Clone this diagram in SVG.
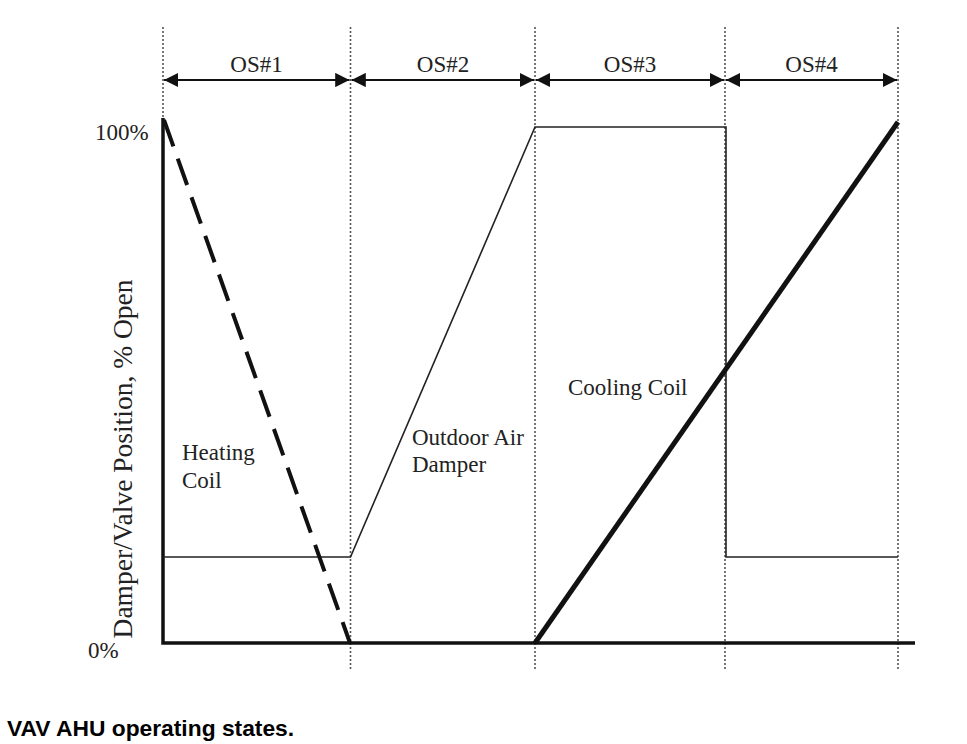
<svg xmlns="http://www.w3.org/2000/svg" width="967" height="744" viewBox="0 0 967 744">
<style>
.t{font-family:"Liberation Serif","Times New Roman",serif;font-size:23px;fill:#222}
.cap{font-family:"Liberation Sans",Arial,sans-serif;font-size:22.8px;font-weight:bold;fill:#000}
.dot{stroke:#555;stroke-width:1.6;stroke-dasharray:2 2;fill:none}
.arr{stroke:#111;stroke-width:2.2;fill:none;marker-start:url(#ah);marker-end:url(#ah)}
.thin{stroke:#222;stroke-width:1.6;fill:none}
</style>
<defs>
<marker id="ah" viewBox="0 0 10 10" refX="10" refY="5" markerWidth="6.5" markerHeight="6.5" orient="auto-start-reverse" markerUnits="strokeWidth">
<path d="M0,0 L10,5 L0,10 z" fill="#111"/>
</marker>
</defs>
<rect width="967" height="744" fill="#fff"/>
<g id="grid">
<line class="dot" x1="163" y1="27" x2="163" y2="118"/>
<line class="dot" x1="350.5" y1="27" x2="350.5" y2="670"/>
<line class="dot" x1="535" y1="27" x2="535" y2="670"/>
<line class="dot" x1="725" y1="27" x2="725" y2="670"/>
<line class="dot" x1="898" y1="27" x2="898" y2="670"/>
</g>
<g id="connectors">
<line class="arr" x1="164" y1="80" x2="349.5" y2="80"/>
<line class="arr" x1="351.5" y1="80" x2="534" y2="80"/>
<line class="arr" x1="536" y1="80" x2="724" y2="80"/>
<line class="arr" x1="726" y1="80" x2="897" y2="80"/>
</g>
<g id="axes">
<polyline points="163,118 163,643 915,643" fill="none" stroke="#111" stroke-width="3.5"/>
</g>
<g id="outdoor-air-damper">
<polyline class="thin" points="163,557 350.5,557 535,127 726,127 726,557 898,557"/>
</g>
<g id="heating-coil">
<line x1="164" y1="120" x2="350" y2="643" stroke="#111" stroke-width="4" stroke-dasharray="28 13"/>
</g>
<g id="cooling-coil">
<line x1="535" y1="643" x2="898" y2="122" stroke="#111" stroke-width="5"/>
</g>
<g id="labels">
<text class="t" x="256.5" y="72" text-anchor="middle">OS#1</text>
<text class="t" x="443" y="72" text-anchor="middle">OS#2</text>
<text class="t" x="630" y="72" text-anchor="middle">OS#3</text>
<text class="t" x="811.5" y="72" text-anchor="middle">OS#4</text>
<text class="t" x="95" y="140">100%</text>
<text class="t" x="88" y="658">0%</text>
<text class="t" x="182" y="460">Heating</text>
<text class="t" x="182" y="488">Coil</text>
<text class="t" x="412" y="445">Outdoor Air</text>
<text class="t" x="412" y="472">Damper</text>
<text class="t" x="568" y="395">Cooling Coil</text>
<text class="t" transform="translate(132,459) rotate(-90)" text-anchor="middle" style="font-size:27.5px">Damper/Valve Position, % Open</text>
<text class="cap" x="7" y="736">VAV AHU operating states.</text>
</g>
</svg>
